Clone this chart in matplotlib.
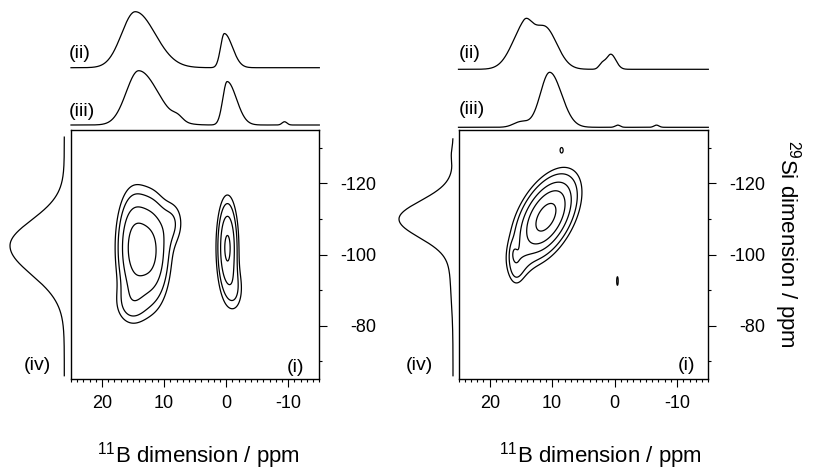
import matplotlib.pyplot as plt
import numpy as np
from matplotlib.ticker import MultipleLocator, FixedLocator

plt.rcParams['font.family'] = ['Liberation Sans', 'DejaVu Sans']
plt.rcParams['mathtext.fontset'] = 'custom'
plt.rcParams['mathtext.rm'] = 'Liberation Sans'
plt.rcParams['axes.unicode_minus'] = False

W, H = 821, 471

# axis ranges and ticks
b_range = (25, -15)
si_range = (-65, -135)
b_ticks = [20, 10, 0, -10]
si_ticks = [-120, -100, -80]
si_minor = [-130, -110, -90, -70]

# 2D spectrum, left: peak centres (11B, 29Si), widths, correlation, height
left_b = [15.0, 12.0, 8.5, 15.5, -0.2, -1.5]
left_si = [-102, -101, -109, -86, -102, -90]
left_wb = [1.6, 1.8, 1.3, 1.8, 1.0, 1.0]
left_wsi = [9.2, 9.2, 4.5, 4.0, 8.0, 4.5]
left_rho = [0, 0, 0, 0, 0, 0]
left_amp = [0.75, 0.75, 0.2, 0.2, 0.82, 0.2]
left_levels = [0.15, 0.25, 0.45, 0.75]

# 2D spectrum, right
right_b = [11.0, 15.5, 15.8, 16.2, 8.5, -0.45]
right_si = [-110.5, -98.0, -95.0, -100.5, -129.5, -92.6]
right_wb = [2.8, 1.3, 0.8, 0.4, 0.5, 0.3]
right_wsi = [6.8, 3.5, 3.0, 2.0, 1.5, 3.0]
right_rho = [0.5, 0, 0, 0, 0, 0]
right_amp = [1.0, 0.15, 0.1, 0.1, 0.115, 0.13]
right_levels = [0.12, 0.2, 0.35, 0.55, 0.85]

# 1D traces: peak position, width on high-ppm side, width on low-ppm side, height
left_ii_pos = [14.65, 0.3]
left_ii_whi = [2.2, 0.6]
left_ii_wlo = [3.2, 1.3]
left_ii_amp = [1.0, 0.61]

left_iii_pos = [14.1, 7.8, -0.15, -9.4]
left_iii_whi = [2.0, 0.8, 0.7, 0.4]
left_iii_wlo = [3.1, 0.8, 1.5, 0.4]
left_iii_amp = [1.0, 0.08, 0.8, 0.06]

left_iv_pos = [-102.5]
left_iv_whi = [8.1]
left_iv_wlo = [7.2]
left_iv_amp = [1.0]

right_ii_pos = [14.6, 11.3, 0.6, 2.0]
right_ii_whi = [2.0, 2.2, 0.7, 0.5]
right_ii_wlo = [1.2, 2.0, 0.8, 0.5]
right_ii_amp = [0.65, 0.8, 0.28, 0.1]

right_iii_pos = [10.4, 15.0, -0.5, -6.7]
right_iii_whi = [1.5, 1.2, 0.4, 0.4]
right_iii_wlo = [1.9, 1.2, 0.4, 0.4]
right_iii_amp = [1.0, 0.1, 0.04, 0.04]

right_iv_pos = [-110.0, -95.0, -128.0]
right_iv_whi = [5.3, 8.0, 2.0]
right_iv_wlo = [5.1, 5.0, 2.0]
right_iv_amp = [1.0, 0.05, 0.03]


def peaks(x, pos, w_hi, w_lo, amp):
    y = np.zeros_like(x)
    for p, a1, a2, h in zip(pos, w_hi, w_lo, amp):
        w = np.where(x > p, a1, a2)
        y += h * np.exp(-0.5 * ((x - p) / w) ** 2)
    return y / y.max()


def field(bb, ss, b0, s0, wb, ws, rho, amp):
    z = np.zeros_like(bb)
    for c1, c2, w1, w2, r, h in zip(b0, s0, wb, ws, rho, amp):
        u = (bb - c1) / w1
        v = (ss - c2) / w2
        z += h * np.exp(-(u ** 2 - 2 * r * u * v + v ** 2) / (2 * (1 - r ** 2)))
    return z


def px(x0, y0, x1, y1):
    return fig.add_axes([x0 / W, 1 - y1 / H, (x1 - x0) / W, (y1 - y0) / H])


fig = plt.figure(figsize=(W / 100, H / 100), dpi=100)

b = np.linspace(25, -15, 801)
si = np.linspace(-135, -65, 701)
bb, ss = np.meshgrid(b, si)

panels = [
    dict(x0=71, x1=319.3, z=field(bb, ss, left_b, left_si, left_wb, left_wsi, left_rho, left_amp),
         levels=left_levels,
         ii=(left_ii_pos, left_ii_whi, left_ii_wlo, left_ii_amp), ii_y=(11.7, 67.7),
         iii=(left_iii_pos, left_iii_whi, left_iii_wlo, left_iii_amp), iii_y=(70.7, 125),
         iv=(left_iv_pos, left_iv_whi, left_iv_wlo, left_iv_amp), iv_x=(10, 64.3),
         si_iv=(-133, -66), xlab=198),
    dict(x0=458.5, x1=708.3, z=field(bb, ss, right_b, right_si, right_wb, right_wsi, right_rho, right_amp),
         levels=right_levels,
         ii=(right_ii_pos, right_ii_whi, right_ii_wlo, right_ii_amp), ii_y=(18.3, 69.3),
         iii=(right_iii_pos, right_iii_whi, right_iii_wlo, right_iii_amp), iii_y=(72.3, 127.3),
         iv=(right_iv_pos, right_iv_whi, right_iv_wlo, right_iv_amp), iv_x=(399, 453),
         si_iv=(-132.5, -66), xlab=600),
]

lw = 0.9
for p in panels:
    ax = px(p['x0'], 130, p['x1'], 379.3)
    ax.contour(b, si, p['z'], levels=p['levels'], colors='black', linewidths=lw)
    ax.set_xlim(*b_range)
    ax.set_ylim(*si_range)
    ax.xaxis.set_major_locator(FixedLocator(b_ticks))
    ax.xaxis.set_minor_locator(MultipleLocator(1))
    ax.yaxis.tick_right()
    ax.yaxis.set_major_locator(FixedLocator(si_ticks))
    ax.yaxis.set_minor_locator(FixedLocator(si_minor))
    ax.tick_params(axis='both', which='major', direction='out', length=6, width=0.8,
                   labelsize=13)
    ax.tick_params(axis='both', which='minor', direction='out', length=2.2, width=0.8)
    ax.tick_params(axis='x', which='major', pad=5)
    ax.tick_params(axis='y', which='major', pad=35)
    for t in ax.get_yticklabels():
        t.set_horizontalalignment('right')
    for s in ax.spines.values():
        s.set_linewidth(1.0)

    # top traces (ii), (iii)
    for key, ykey in (('ii', 'ii_y'), ('iii', 'iii_y')):
        y0, y1 = p[ykey]
        tx = px(p['x0'], y0, p['x1'], y1)
        tx.plot(b, peaks(b, *p[key]), color='black', lw=lw, clip_on=False)
        tx.set_xlim(*b_range)
        tx.set_ylim(0, 1)
        tx.axis('off')

    # left projection (iv)
    x0, x1 = p['iv_x']
    lx = px(x0, 130, x1, 379.3)
    s1 = np.linspace(p['si_iv'][0], p['si_iv'][1], 600)
    lx.plot(peaks(s1, *p['iv']), s1, color='black', lw=lw, clip_on=False)
    lx.set_xlim(1, 0)
    lx.set_ylim(*si_range)
    lx.axis('off')

    fig.text(p['xlab'] / W, 1 - 456 / H, r'$\mathregular{^{11}}$B dimension / ppm',
             ha='center', va='center', fontsize=16)

labels = [('(ii)', 80, 54), ('(iii)', 82, 111), ('(iv)', 37.5, 366), ('(i)', 296, 368),
          ('(ii)', 469.5, 53), ('(iii)', 471.5, 110), ('(iv)', 419, 365), ('(i)', 686.5, 365)]
for txt, x, y in labels:
    fig.text(x / W, 1 - y / H, txt, ha='center', va='center', fontsize=14)

fig.text(787 / W, 1 - 244 / H, r'$\mathregular{^{29}}$Si dimension / ppm', rotation=-90,
         ha='center', va='center', fontsize=16)

fig.savefig('out.png', dpi=100)
